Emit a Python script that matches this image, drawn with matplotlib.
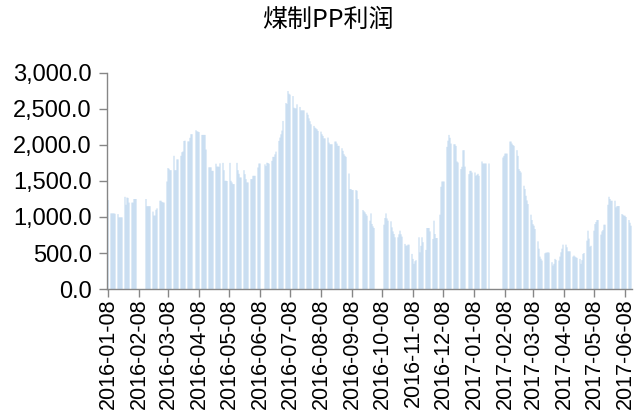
import numpy as np
import pandas as pd
import matplotlib
matplotlib.use("Agg")
import matplotlib.pyplot as plt
import matplotlib.dates as mdates
from matplotlib.ticker import FuncFormatter

nan = np.nan
title = "煤制PP利润"
start_date = "2016-01-08"
end_date = "2017-06-14"

# Daily (business-day) profit values, one row per week (Mon..Fri)
profit = [
    1235,                                   # 2016-01-08 (Fri)
    1050, 1050, 1050, 1050, 1045,           # 01-11
    1040, 995, 995, 995, 995,               # 01-18
    1280, 1170, 1270, 1265, 1200,           # 01-25
    1200, 1200, 1250, 1250, 1250,           # 02-01
    nan, nan, nan, nan, nan,                # 02-08 (Spring Festival)
    1250, 1150, 1150, 1150, 1150,           # 02-15
    1075, 1020, 1020, 1100, 1120,           # 02-22
    1226, 1226, 1210, 1203, 1200,           # 02-29
    1493, 1680, 1670, 1650, 1650,           # 03-07
    1850, 1650, 1650, 1800, 1800,           # 03-14
    1850, 1900, 1910, 2056, 2060,           # 03-21
    2050, 2050, 2100, 2150, 2150,           # 03-28
    nan, 2205, 2190, 2186, 2180,            # 04-04
    2140, 2140, 2140, 2140, 1937,           # 04-11
    1690, 1690, 1690, 1641, 1641,           # 04-18
    1740, 1700, 1700, 1697, 1745,           # 04-25
    1752, 1650, 1503, 1503, 1500,           # 05-02
    1752, 1503, 1480, 1457, 1457,           # 05-09
    1752, 1650, 1600, 1549, 1549,           # 05-16
    1650, 1595, 1526, 1480, 1480,           # 05-23
    1526, 1526, 1572, 1572, 1572,           # 05-30
    1688, 1743, 1743, nan, nan,             # 06-06
    1731, 1708, 1754, 1750, 1740,           # 06-13
    1780, 1835, 1835, 1870, 1908,           # 06-20
    2057, 2103, 2149, 2200, 2334,           # 06-27
    2583, 2570, 2749, 2712, 2700,           # 07-04
    2680, 2518, 2509, 2509, 2565,           # 07-11
    2528, 2481, 2481, 2481, 2481,           # 07-18
    2449, 2420, 2370, 2330, 2288,           # 07-25
    2265, 2241, 2230, 2218, 2195,           # 08-01
    2186, 2149, 2126, 2092, 2092,           # 08-08
    2103, 2033, 2010, 2010, 2010,           # 08-15
    2048, 2048, 2020, 1988, 1988,           # 08-22
    1955, 1919, 1872, 1850, 1835,           # 08-29
    1604, 1388, 1388, 1374, 1374,           # 09-05
    1374, 1365, 1249, nan, nan,             # 09-12
    1097, 1080, 1064, 1040, 1018,           # 09-19
    949, 1050, 903, 870, 847,               # 09-26
    nan, nan, nan, nan, nan,                # 10-03 (National Day)
    893, 986, 1050, 980, 949,               # 10-10
    940, 856, 800, 764, 718,                # 10-17
    718, 760, 810, 760, 727,                # 10-24
    626, 603, 603, 616, 616,                # 10-31
    487, 418, 349, 386, 400,                # 11-07
    718, 510, 600, 718, 650,                # 11-14
    543, 847, 847, 847, 800,                # 11-21
    695, 949, 764, 708, 708,                # 11-28
    1032, 1420, 1493, 1493, 1493,           # 12-05
    1974, 2060, 2140, 2100, 2020,           # 12-12
    2010, 2010, 1987, 1771, 1757,           # 12-19
    1665, 1697, 1927, 1928, 1700,           # 12-26
    nan, 1595, 1641, 1641, 1618,            # 2017-01-02
    1618, 1572, 1586, 1600, 1572,           # 01-09
    1771, 1743, 1743, 1743, 1743,           # 01-16
    1743, nan, nan, nan, nan,               # 01-23 (Spring Festival)
    nan, nan, nan, nan, nan,                # 01-30
    1826, 1850, 1881, 1881, 1881,           # 02-06
    2048, 2048, 2020, 2000, 1988,           # 02-13
    1928, 1849, 1665, 1640, 1618,           # 02-20
    1434, 1388, 1295, 1230, 1180,           # 02-27
    1032, 958, 900, 879, 833,               # 03-06
    662, 560, 450, 420, 395,                # 03-13
    496, 505, 505, 510, 505,                # 03-20
    372, 326, 350, 418, 404,                # 03-27
    395, 450, 510, 560, 616,                # 04-03
    616, 580, 523, 523, 523,                # 04-10
    450, 464, 450, 440, 432,                # 04-17
    418, 349, 400, 487, 500,                # 04-24
    672, 810, 700, 587, 600,                # 05-01
    810, 902, 930, 958, 958,                # 05-08
    755, 800, 819, 893, 893,                # 05-15
    1170, 1281, 1250, 1226, 1226,           # 05-22
    1226, 1134, 1150, 1152, 1152,           # 05-29
    1041, 1030, 1018, 1018, 1000,           # 06-05
    958, 920, 879,                          # 06-12
]

tick_labels = ["2016-01-08", "2016-02-08", "2016-03-08", "2016-04-08", "2016-05-08",
               "2016-06-08", "2016-07-08", "2016-08-08", "2016-09-08", "2016-10-08",
               "2016-11-08", "2016-12-08", "2017-01-08", "2017-02-08", "2017-03-08",
               "2017-04-08", "2017-05-08", "2017-06-08"]
y_ticks = [0, 500, 1000, 1500, 2000, 2500, 3000]

dates = pd.bdate_range(start_date, end_date)
xnum = mdates.date2num(dates.to_pydatetime())
vals = np.array(profit, dtype=float)
assert len(xnum) == len(vals), (len(xnum), len(vals))
mask = ~np.isnan(vals)

fig = plt.figure(figsize=(6.39, 4.16), dpi=100)
ax = fig.add_axes([107/639, 1-289/416, (632-107)/639, (289-73)/416])

bars = ax.bar(xnum[mask], vals[mask], width=0.9, color="#b4d1ed", edgecolor="none",
              align="center")
for b in bars:
    b.set_snap(False)

ax.set_ylim(0, 3000)
ax.set_yticks(y_ticks)
ax.yaxis.set_major_formatter(FuncFormatter(lambda v, p: f"{v:,.1f}"))
tick_pos = mdates.date2num(pd.to_datetime(tick_labels).to_pydatetime())
ax.set_xticks(tick_pos)
ax.set_xticklabels(tick_labels, rotation=90)
ax.set_xlim(mdates.date2num(pd.Timestamp("2016-01-07").to_pydatetime()),
            mdates.date2num(pd.Timestamp("2017-06-15").to_pydatetime()))

for s in ["top", "right"]:
    ax.spines[s].set_visible(False)
for s in ["left", "bottom"]:
    ax.spines[s].set_color("#868686")
    ax.spines[s].set_linewidth(1.0)
ax.tick_params(axis="both", colors="#868686", length=6, width=1.0, direction="out",
               labelcolor="black")
ax.tick_params(axis="y", pad=5, labelsize=17)
ax.tick_params(axis="x", pad=1, labelsize=15.5)
for lab in ax.get_xticklabels() + ax.get_yticklabels():
    lab.set_fontfamily("Liberation Sans")

fig.text(328/639, 1-20/416, title, ha="center", va="center", fontsize=18,
         family=["Noto Sans CJK SC", "DejaVu Sans"], color="black")

fig.savefig("out.png", dpi=100)
